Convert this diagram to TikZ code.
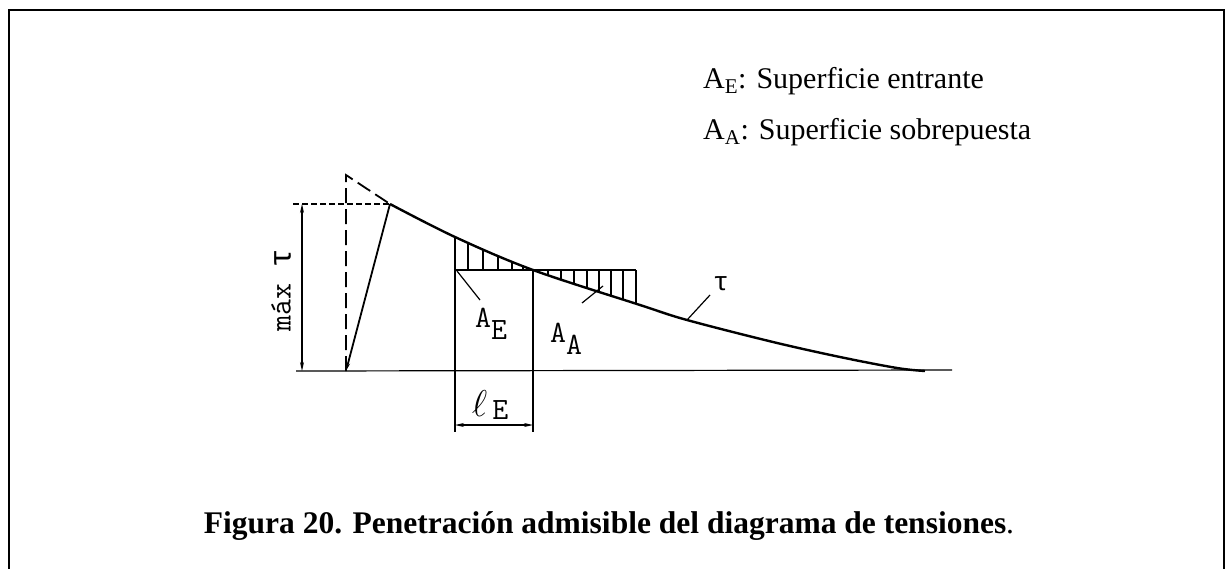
\documentclass[tikz,border=0pt]{standalone}
\usepackage{fontspec}
\setmainfont{Liberation Serif}
\newfontfamily\greekmono{Liberation Mono}
\usetikzlibrary{arrows.meta}
\begin{document}
\begin{tikzpicture}[x=1pt,y=-1pt,
  thinln/.style={line width=1.2pt},
  curveln/.style={line width=2.4pt},
  dashln/.style={line width=1.8pt, dash pattern=on 15pt off 6pt},
  dimarrow/.style={line width=1.2pt, {Stealth[length=9pt,width=4pt]}-{Stealth[length=9pt,width=4pt]}},
  lbl/.style={font=\ttfamily\fontsize{31}{31}\selectfont, inner sep=0pt},
  legend/.style={font=\fontsize{30}{33}\selectfont, anchor=base west, inner sep=0pt}]
\useasboundingbox (0,0) rectangle (1231,568);
\draw[line width=2.6pt] (9,590) -- (9,10) -- (1224,10) -- (1224,590);
\def\tcurve{plot[smooth, tension=0.55] coordinates {(390,204) (455,237) (533,270) (640,305) (687,320) (773,342) (840,357) (897,368) (925,371)}}
% coordinates
\coordinate (foot) at (346,371);
\coordinate (peak) at (390,204);
\coordinate (dtop) at (346,175);
% baseline
\draw[thinln] (296,371) -- (952,370);
% dashed extension lines
\draw[thinln, dash pattern=on 6pt off 3pt] (293,204) -- (peak);
\draw[dashln] (foot) -- (dtop) -- (peak);
% slanted solid line
\draw[line width=1.8pt, -{Stealth[length=8pt,width=4pt]}] (peak) -- (foot);
% curve
\draw[curveln] \tcurve;
% rectangle lines
\draw[thinln] (455,237) -- (455,432);
\draw[thinln] (533,270) -- (533,432);
\draw[thinln] (455,270) -- (636,270);
% hatching AE
\begin{scope}
\clip \tcurve -- (925,440) -- (390,440) -- cycle;
\foreach \x in {468,483,498,512,523} \draw[thinln] (\x,200) -- (\x,270);
\end{scope}
% hatching AA
\begin{scope}
\clip \tcurve -- (925,150) -- (390,150) -- cycle;
\foreach \x in {548,561,574,587,599,611,623,636} \draw[thinln] (\x,270) -- (\x,340);
\end{scope}
% leaders
\draw[thinln] (457,271) -- (480,300);
\draw[thinln] (582,303) -- (603,286);
\draw[thinln] (687,320) -- (710,295);
% dimensions
\draw[dimarrow] (302,204) -- (302,371);
\draw[dimarrow] (455,425) -- (533,425);
% labels
\node[lbl] (lae) at (491,324) {A\raisebox{-0.4em}{E}};
\node[lbl] (laa) at (566,339) {A\raisebox{-0.4em}{A}};
\node[lbl] (ltau) at (721,284) {\greekmono\scalebox{0.85}{τ}};
\node[lbl] (lle) at (490,405) {\scalebox{1.5}{$\ell$}\,\raisebox{-0.1em}{E}};
\node[lbl, rotate=90] (lmax) at (281,290) {m\'ax {\greekmono τ}};
% legend
\node[legend] (leg1) at (703,88) {A\textsubscript{E}: Superficie entrante};
\node[legend] (leg2) at (703,139) {A\textsubscript{A}: Superficie sobrepuesta};
% caption
\node[font=\bfseries\fontsize{31.5}{34}\selectfont, anchor=base, inner sep=0pt] (cap) at (609,533) {Figura 20. Penetración admisible del diagrama de tensiones\textmd{.}};
\end{tikzpicture}
\end{document}
